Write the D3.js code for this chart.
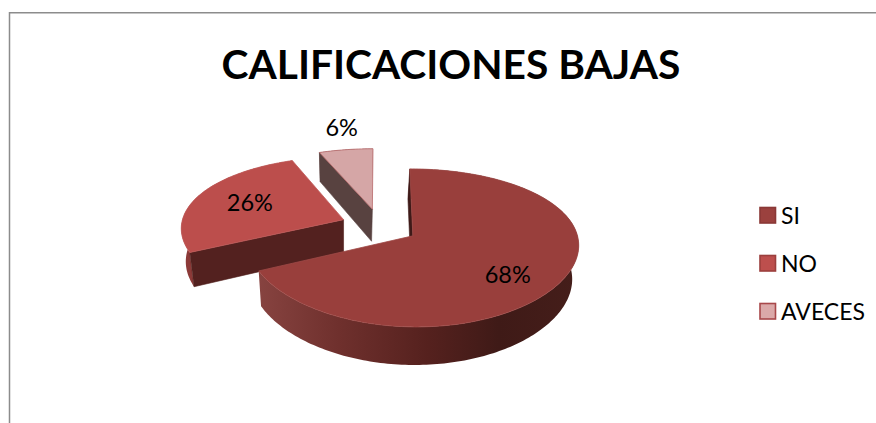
<!DOCTYPE html>
<html>
<head>
<meta charset="utf-8">
<script src="https://cdnjs.cloudflare.com/ajax/libs/d3/7.8.5/d3.min.js"></script>
<style>
  html, body { margin: 0; padding: 0; background: #fff; }
  svg { display: block; }
  text { font-family: Lato, "Open Sans", sans-serif; fill: #000; }
</style>
</head>
<body>
<svg id="chart" width="876" height="423"></svg>
<script>
// Chart content
const titleText = "CALIFICACIONES BAJAS";
const categories = ["SI", "NO", "AVECES"];
const percentages = [68, 26, 6];

// Slice colours: top face, radial wall, rim wall
const topColors = ["#993f3c", "#bc4e4c", "#d5a6a6"];
const faceColors = ["#3e1a18", "#53211f", "#584240"];
const rimColors = ["url(#rimShade)", "#8c3a38", "#7a5a58"];
const edgeColors = ["#a04a47", "#c25c5a", "#b8686a"];

// Perspective view of the pie plane: unit-disc coordinates to screen pixels
const view = {
  top:    { x0: 379.5, y0: 226.1, rx: 162.5, ry: 74.2 },
  bottom: { x0: 378.5, y0: 259,   rx: 158, ry: 78 },
  kx: 0.10, ky: 0.15
};
const explode = 0.24;

function project(level, u, v) {
  const p = view[level];
  return [p.x0 + p.rx * u / (1 + view.kx * v), p.y0 - p.ry * v / (1 + view.ky * v)];
}

const pie = d3.pie().sort(null).value(d => d)(percentages);
const slices = pie.map((s, i) => {
  const mid = (s.startAngle + s.endAngle) / 2;
  return {
    index: i,
    label: categories[i],
    value: s.value,
    start: s.startAngle,
    end: s.endAngle,
    ox: explode * Math.sin(mid),
    oy: explode * Math.cos(mid),
    mid
  };
});

const apex = (s, level) => project(level, s.ox, s.oy);
const rimPoint = (s, a, level, r = 1) =>
  project(level, s.ox + r * Math.sin(a), s.oy + r * Math.cos(a));
const rimPoints = (s, level) => {
  const n = Math.ceil((s.end - s.start) / 0.02);
  return d3.range(n + 1).map(i => rimPoint(s, s.start + (s.end - s.start) * i / n, level));
};
const line = d3.line();

const svg = d3.select("#chart");

// Wall shading along the outer rim of the large slice
const grad = svg.append("defs").append("linearGradient").attr("id", "rimShade");
[[0, "#874340"], [0.25, "#6f302d"], [0.53, "#55211e"], [0.75, "#3f1a17"], [1, "#451e1a"]]
  .forEach(([o, c]) => grad.append("stop").attr("offset", o).attr("stop-color", c));

// Frame: only the top and left sides are visible
const frame = svg.append("g").attr("stroke", "#8c8c8c").attr("stroke-width", 1.5);
frame.append("line").attr("x1", 9.5).attr("x2", 876).attr("y1", 12.75).attr("y2", 12.75);
frame.append("line").attr("x1", 9.5).attr("x2", 9.5).attr("y1", 12).attr("y2", 423);

// Title
svg.append("text")
  .attr("x", 451).attr("y", 79)
  .attr("text-anchor", "middle")
  .attr("font-size", 40.7).attr("font-weight", 700)
  .text(titleText);

// Slices are painted back to front, the large one last so it overlaps the others
const pieLayer = svg.append("g");
[2, 1, 0].forEach(i => {
  const s = slices[i];
  const g = pieLayer.append("g").attr("class", "slice");

  // Outer rim wall
  const topRim = rimPoints(s, "top");
  const bottomRim = rimPoints(s, "bottom");
  g.append("path").attr("d", line(topRim.concat(bottomRim.slice().reverse())) + "Z")
    .attr("fill", rimColors[i]);

  // The radial wall at the start of the slice is the one facing the viewer
  const quad = [apex(s, "top"), rimPoint(s, s.start, "top"), rimPoint(s, s.start, "bottom"), apex(s, "bottom")];
  g.append("path").attr("d", line(quad) + "Z")
    .attr("fill", faceColors[i]).attr("stroke", faceColors[i]).attr("stroke-width", 0.6);

  // Top face
  g.append("path").attr("d", line([apex(s, "top"), ...topRim]) + "Z")
    .attr("fill", topColors[i])
    .attr("stroke", edgeColors[i]).attr("stroke-width", 0.8).attr("stroke-linejoin", "round");
});

// Value labels: anchored along each slice's bisector, then nudged
const labelRadius = [0.62, 0.6, 1.28];
const labelNudge = [[4.5, 11], [-6.5, -2], [2.5, -9]];
slices.forEach((s, i) => {
  const [x, y] = rimPoint(s, s.mid, "top", labelRadius[i]);
  svg.append("text")
    .attr("x", x + labelNudge[i][0]).attr("y", y + labelNudge[i][1])
    .attr("text-anchor", "middle").attr("dominant-baseline", "central")
    .attr("font-size", 23.5)
    .text(s.value + "%");
});

// Legend
const legendColor = d3.scaleOrdinal(categories, ["#9b413e", "#bd4f4d", "#dba9a9"]);
const legendEdge = d3.scaleOrdinal(categories, ["#8a3836", "#9b3f3d", "#a8484a"]);
const legendY = d3.scalePoint(categories, [215, 311]);
const legend = svg.append("g").selectAll("g").data(categories).join("g")
  .attr("transform", d => `translate(760,${legendY(d)})`);
legend.append("rect")
  .attr("x", 0).attr("y", -7.5).attr("width", 15.5).attr("height", 15.5)
  .attr("fill", d => legendColor(d)).attr("stroke", d => legendEdge(d)).attr("stroke-width", 1.6);
legend.append("text")
  .attr("x", 21).attr("y", 8.5)
  .attr("font-size", 23)
  .text(d => d);
</script>
</body>
</html>
